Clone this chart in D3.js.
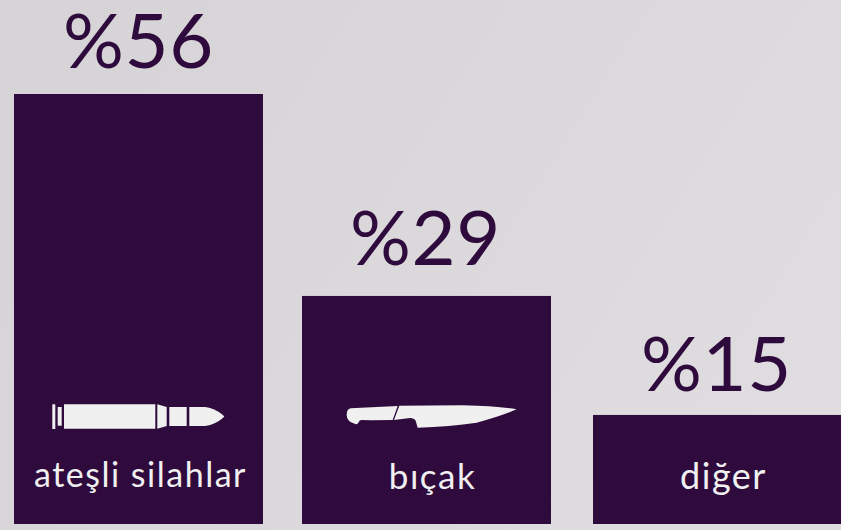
<!DOCTYPE html>
<html>
<head>
<meta charset="utf-8">
<script src="https://cdnjs.cloudflare.com/ajax/libs/d3/7.8.5/d3.min.js"></script>
<style>
html, body { margin: 0; padding: 0; background: #dbd9dc; }
svg { display: block; font-family: Lato, sans-serif; }
</style>
</head>
<body>
<svg id="chart"></svg>
<script>
const categories = ['ateşli silahlar', 'bıçak', 'diğer'];
const percentLabels = ['%56', '%29', '%15'];
// bar heights as drawn in the picture, they are not exactly in step with the labels
const barValues = [56, 29.7, 14.2];

const width = 841, height = 530;
const barWidth = 249;
const barColor = '#2f0a3c';
const textColor = '#f0f0f1';

// the labels do not sit at one fixed distance from their bars
const percentGap = [26, 31, 24];
const percentShift = [0, -1, -1];
const nameShift = [2, 6, 6];
const nameBaseline = [487, 489, 489];
const nameSize = [34, 35, 36];

const svg = d3.select('#chart').attr('width', width).attr('height', height);

const defs = svg.append('defs');
const bg = defs.append('linearGradient').attr('id', 'bg')
    .attr('x1', '0%').attr('y1', '30%').attr('x2', '100%').attr('y2', '70%');
bg.append('stop').attr('offset', '0%').attr('stop-color', '#d6d4d7');
bg.append('stop').attr('offset', '100%').attr('stop-color', '#dfdde0');

svg.append('rect').attr('width', width).attr('height', height).attr('fill', 'url(#bg)');

const x = d3.scaleOrdinal().domain(categories).range([14, 302, 593]);
const y = d3.scaleLinear().domain([0, 56]).range([524, 94]);

const bars = svg.selectAll('.bar')
    .data(categories)
    .enter()
    .append('g')
    .attr('class', 'bar');

bars.append('rect')
    .attr('x', d => x(d))
    .attr('y', (d, i) => y(barValues[i]))
    .attr('width', barWidth)
    .attr('height', (d, i) => y(0) - y(barValues[i]))
    .attr('fill', barColor);

// Percent labels above the bars
bars.append('text')
    .attr('x', (d, i) => x(d) + barWidth / 2 + percentShift[i])
    .attr('y', (d, i) => y(barValues[i]) - percentGap[i])
    .attr('text-anchor', 'middle')
    .attr('font-size', '76px')
    .attr('font-weight', 400)
    .attr('letter-spacing', '0.6px')
    .attr('fill', barColor)
    .text((d, i) => percentLabels[i]);

// Category names inside the bars
bars.append('text')
    .attr('x', (d, i) => x(d) + barWidth / 2 + nameShift[i])
    .attr('y', (d, i) => nameBaseline[i])
    .attr('text-anchor', 'middle')
    .attr('font-size', (d, i) => nameSize[i] + 'px')
    .attr('letter-spacing', '1.5px')
    .attr('fill', textColor)
    .text(d => d);

// Bullet icon
const bullet = svg.append('g').attr('fill', textColor);
bullet.append('path').attr('d', 'M52.3,404.3H55.3V429H52.3Z');
bullet.append('path').attr('d', 'M57.7,407H61.7V425.7H57.7Z');
bullet.append('path').attr('d', 'M64,404.3H155.3V428.7H64Z');
bullet.append('path').attr('d', 'M157.3,404.3L166.7,407V426L157.3,428.7Z');
bullet.append('path').attr('d', 'M169.3,407H186.7V426H169.3Z');
bullet.append('path').attr('d', 'M189.3,407H205C213,408 220,412 224.3,416.5C220,421 213,425 205,426H189.3Z');

// Knife icon
const knife = svg.append('g')
    .attr('transform', 'translate(330,390) scale(0.3333)')
    .attr('fill', textColor);
knife.append('path').attr('d', 'M62,55L203,48L188,90L125,91L95,90Q88,90 86,97Q84,104 76,102Q50,95 50,75Q50,57 62,55Z');
knife.append('path').attr('d', 'M208,47L400,46Q500,48 560,58Q510,80 440,98Q360,110 263,113L257,92Q252,84 240,84L192,90Z');
</script>
</body>
</html>
